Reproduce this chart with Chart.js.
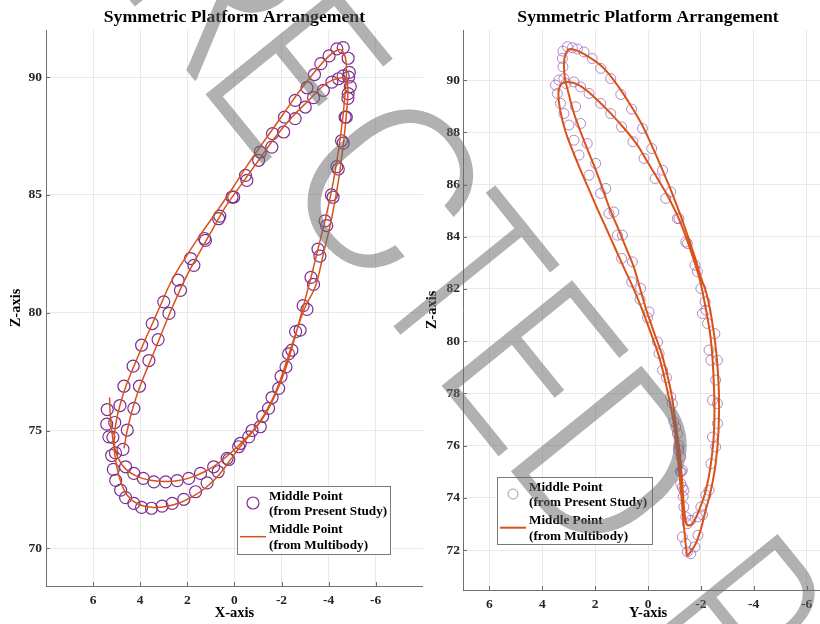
<!DOCTYPE html>
<html>
<head>
<meta charset="utf-8">
<title>Symmetric Platform Arrangement</title>
<script src="https://cdn.jsdelivr.net/npm/chart.js@4.4.1/dist/chart.umd.min.js"></script>
<style>
  html, body { margin: 0; padding: 0; background: #fff; overflow: hidden; }
  #wrap { position: relative; width: 820px; height: 624px; overflow: hidden; }
  #wrap canvas { position: absolute; top: 0; }
  #xzChart { left: 0; }
  #yzChart { left: 410px; }
</style>
</head>
<body>
<div id="wrap">
  <canvas id="xzChart" width="430" height="624"></canvas>
  <canvas id="yzChart" width="430" height="624"></canvas>
</div>
<script>
// ---- tick values ----
const xTicks = [-6, -4, -2, 0, 2, 4, 6];
const yTicks = [-6, -4, -2, 0, 2, 4, 6];
const zTicksXZ = [70, 75, 80, 85, 90];
const zTicksYZ = [72, 74, 76, 78, 80, 82, 84, 86, 88, 90];

// ---- X-Z view: multibody trace ----
const xzLineX = [5.30, 5.28, 5.22, 5.13, 5.02, 4.85, 4.55, 4.10, 3.50, 2.90,
  2.35, 1.80, 1.23, 0.67, 0.10, -0.35, -0.90, -1.35, -1.75, -2.15,
  -2.50, -2.80, -3.22, -3.57, -3.92, -4.21, -4.42, -4.59, -4.70, -4.76,
  -4.72, -4.58, -4.40, -4.00, -3.43, -2.72, -2.02, -1.31, -0.61, 0.10,
  0.81, 1.51, 2.20, 2.72, 3.10, 3.50, 3.90, 4.28, 4.62, 4.88,
  5.05, 5.10, 4.95, 4.60, 4.06, 3.49, 2.92, 2.36, 1.80, 1.23,
  0.67, 0.10, -0.47, -1.03, -1.53, -1.95, -2.30, -2.65, -3.01, -3.43,
  -3.78, -4.14, -4.42, -4.63, -4.77, -4.82, -4.75, -4.56, -4.14, -3.71,
  -3.15, -2.44, -1.74, -1.03, -0.32, 0.38, 0.95, 1.51, 2.03, 2.45,
  2.82, 3.18, 3.57, 3.98, 4.30, 4.55, 4.69];
const xzLineZ = [76.40, 75.80, 75.10, 74.40, 73.60, 72.90, 72.25, 71.88, 71.74, 71.77,
  71.92, 72.18, 72.56, 73.10, 73.85, 74.45, 75.10, 75.75, 76.55, 77.55,
  78.70, 79.80, 81.38, 82.79, 84.21, 85.62, 86.89, 88.16, 89.30, 90.14,
  90.80, 91.12, 91.16, 90.88, 90.25, 89.35, 88.35, 87.35, 86.35, 85.25,
  84.21, 83.21, 82.15, 81.25, 80.40, 79.50, 78.60, 77.70, 76.85, 76.00,
  75.20, 74.45, 73.85, 73.35, 73.02, 72.88, 72.84, 72.88, 73.02, 73.27,
  73.62, 74.10, 74.66, 75.30, 76.15, 77.14, 78.20, 79.26, 80.25, 81.09,
  82.51, 84.06, 85.62, 87.18, 88.59, 89.44, 89.86, 89.97, 89.86, 89.58,
  89.01, 88.30, 87.46, 86.47, 85.48, 84.49, 83.50, 82.51, 81.55, 80.65,
  79.80, 78.90, 77.95, 76.95, 76.00, 75.00, 74.24];

// ---- X-Z view: present study points ----
const xzMarkX = [5.40, 5.42, 5.33, 5.21, 5.14, 5.04, 4.83, 4.62, 4.27, 3.94, 3.52, 3.07, 2.64, 2.15, 1.65, 1.16, 0.69, 0.24,
  -0.18, -0.61, -1.10, -1.45, -1.88, -2.19, -2.44, -2.79, -3.08, -3.36, -3.63, -3.92, -4.19, -4.41, -4.62, -4.75, -4.83, -4.88, -4.83, -4.62, -4.35,
  -4.02, -3.67, -3.40, -3.08, -2.58, -2.13, -1.62, -1.10, -0.47, 0.10, 0.67, 1.27, 1.86, 2.39, 3.00, 3.49, 3.94, 4.30, 4.69, 4.86, 5.08, 5.16, 5.05,
  4.62, 4.27, 3.87, 3.42, 2.92, 2.43, 1.94, 1.44, 0.88, 0.31,
  -0.25, -0.75, -1.20, -1.60, -1.98, -2.30, -2.60, -2.92, -3.25, -3.55, -3.85, -4.12, -4.35, -4.55, -4.70, -4.82, -4.92, -4.85, -4.62,
  -4.42, -4.14, -3.78, -3.36, -3.01, -2.58, -2.09, -1.59, -1.03, -0.53, 0.03, 0.62, 1.23, 1.72, 2.29, 2.78, 3.24, 3.63, 4.03, 4.27, 4.55, 4.73];
const xzMarkZ = [75.89, 75.27, 74.73, 73.94, 73.35, 72.88, 72.47, 72.15, 71.91, 71.74, 71.70, 71.79, 71.91, 72.08, 72.40, 72.78, 73.25, 73.77,
  74.31, 74.73, 75.16, 75.94, 76.79, 77.70, 78.41, 79.26, 80.14, 81.20, 82.40, 83.70, 84.90, 86.10, 87.20, 88.30, 89.30, 90.20, 90.80, 91.25, 91.20,
  90.90, 90.57, 90.11, 89.55, 89.01, 88.30, 87.60, 86.82, 85.83, 84.91, 83.99, 83.15, 82.30, 81.38, 80.46, 79.54, 78.62, 77.73, 76.88, 76.06, 75.34, 74.71, 74.05,
  73.46, 73.18, 72.97, 72.82, 72.82, 72.87, 72.97, 73.18, 73.46, 73.82,
  74.45, 75.00, 75.60, 76.40, 77.30, 78.25, 79.20, 80.30, 81.50, 82.70, 83.90, 85.00, 86.20, 87.30, 88.30, 89.10, 89.60, 90.00, 90.05,
  89.93, 89.79, 89.44, 89.13, 88.73, 88.24, 87.67, 87.03, 86.47, 85.62, 84.91, 84.10, 83.07, 82.01, 80.95, 79.97, 78.86, 77.97, 76.88, 75.94, 75.02, 74.20];

// ---- Y-Z view: multibody trace ----
const yzLineY = [-1.02, -1.12, -1.20, -1.27, -1.33, -1.40, -1.45, -1.49,
  -1.62, -1.81, -2.00, -2.15, -2.38, -2.56, -2.67, -2.68, -2.58, -2.42, -2.22, -2.00,
  -1.78, -1.50, -1.20, -0.88, -0.52, -0.15, 0.22, 0.66, 1.16, 1.73, 2.36, 2.93,
  3.12, 3.18, 3.14, 2.99, 2.80, 2.55, 2.28, 2.00, 1.72, 1.45, 1.13, 0.82,
  0.52, 0.30, 0.08, -0.17, -0.55, -0.86, -1.05, -1.22, -1.28, -1.34, -1.41, -1.49,
  -1.68, -1.93, -2.19, -2.38, -2.50, -2.50, -2.38, -2.12, -1.95, -1.72, -1.45,
  -1.12, -0.75, -0.36, 0.02, 0.40, 0.84, 1.35, 1.98, 2.61, 3.05,
  3.31, 3.39, 3.31, 3.12, 2.86, 2.58, 2.25, 1.92, 1.58, 1.24, 0.90, 0.55,
  0.22, -0.04, -0.42, -0.73, -0.98, -1.15, -1.24, -1.32];
const yzLineZ = [76.40, 75.60, 74.80, 74.00, 73.20, 72.50, 72.00, 71.80,
  71.95, 72.25, 72.80, 73.40, 74.29, 75.31, 76.59, 78.12, 79.60, 80.80, 81.80, 82.45,
  83.20, 84.05, 84.90, 85.75, 86.62, 87.48, 88.28, 89.04, 89.81, 90.51, 90.96, 91.19,
  91.00, 90.57, 90.06, 89.43, 88.72, 88.02, 87.32, 86.62, 85.85, 85.08, 84.32, 83.55,
  82.79, 82.02, 81.25, 80.50, 79.40, 78.12, 76.85, 75.57, 74.80, 73.90, 73.20, 72.95,
  73.01, 73.52, 74.29, 75.31, 76.59, 78.12, 80.04, 81.60, 82.40, 83.15, 83.95,
  84.80, 85.55, 86.23, 86.87, 87.51, 88.08, 88.66, 89.30, 89.81, 89.93,
  89.81, 89.43, 88.79, 88.02, 87.32, 86.62, 85.85, 85.08, 84.32, 83.55, 82.79, 82.02,
  81.20, 80.50, 79.40, 78.12, 76.85, 75.57, 74.80, 74.20];

// ---- Y-Z view: present study points ----
const yzMarkY = [-1.11, -1.17, -1.24, -1.30, -1.24, -1.36, -1.36, -1.30, -1.43, -1.49, -1.62, -1.77,
  -1.89, -2.06, -2.31, -2.56, -2.63, -2.63, -2.56, -2.63, -2.53, -2.19, -2.00, -1.78, -1.49, -1.17, -0.86, -0.55, -0.14, 0.21, 0.62, 1.03, 1.41, 1.79, 2.11, 2.42, 2.67, 2.86, 3.05,
  3.22, 3.24, 3.22, 3.10, 2.74, 2.55, 2.30, 1.98, 1.60, 1.29, 0.97, 0.59, 0.28, -0.04, -0.36, -0.55, -0.86, -0.98, -1.15, -1.26, -1.33, -1.43, -1.49,
  -1.62, -1.87, -2.00, -2.19, -2.38, -2.44, -2.44, -2.38, -2.31, -2.25, -2.06, -2.16, -1.87, -1.43, -1.11, -0.67, -0.27, 0.15, 0.57, 1.00, 1.41, 1.79, 2.23, 2.55, 2.80, 3.18,
  3.37, 3.50, 3.43, 3.31, 3.18, 2.99, 2.80, 2.61, 2.23, 1.79, 1.48, 1.16, 1.00, 0.62, 0.30, 0.02, -0.42, -0.70, -0.92, -1.05, -1.17, -1.22, -1.30];
const yzMarkZ = [76.46, 76.02, 75.57, 75.06, 74.55, 74.29, 73.65, 72.50, 72.25, 71.93, 71.86, 72.12,
  72.57, 73.35, 74.29, 75.95, 76.85, 77.61, 78.51, 79.27, 80.29, 81.19, 82.02, 82.91, 83.74, 84.70, 85.72, 86.55, 87.38, 88.15, 88.89, 89.45, 90.06, 90.45, 90.83, 91.08, 91.19, 91.24, 91.28,
  91.11, 90.83, 90.51, 89.87, 88.98, 88.34, 87.57, 86.81, 85.85, 84.95, 84.06, 83.04, 82.02, 81.12, 79.97, 78.89, 77.87, 76.91, 75.90, 75.00, 74.05, 73.27, 73.01,
  73.14, 73.27, 73.65, 74.10, 75.31, 76.33, 77.74, 79.27, 79.66, 80.68, 81.06, 81.51, 82.66, 83.80, 84.70, 85.47, 86.23, 87.00, 87.64, 88.21, 88.72, 89.11, 89.49, 89.74, 89.93, 90.06,
  90.00, 89.81, 89.49, 89.11, 88.72, 88.28, 87.70, 87.13, 86.36, 85.66, 84.89, 84.06, 83.17, 82.27, 81.60, 80.90, 79.53, 78.60, 77.61, 76.70, 75.80, 75.00, 74.40];

const legendRows = [['Middle Point', '(from Present Study)'], ['Middle Point', '(from Multibody)']];

const serif = "'Liberation Serif', 'Times New Roman', serif";
const toPoints = (a, b) => a.map((v, i) => ({ x: v, y: b[i] }));

// stamp letters: [glyph, centre along the slanted baseline, width]
const stampGlyphs = [['C', -275, 134], ['O', -130, 140], ['R', 2, 110], ['R', 131, 110], ['E', 248, 91],
  ['C', 390, 130], ['T', 507, 103], ['E', 623, 91], ['D', 746, 117], ['P', 947, 86],
  ['R', 1072, 110], ['O', 1210, 140], ['O', 1370, 140], ['F', 1515, 86]];

// title, inward tick marks, boxed legend and the proof stamp
const panelDecor = {
  id: 'panelDecor',
  afterDraw(chart, args, opts) {
    const ctx = chart.ctx;
    const area = chart.chartArea;
    const xs = chart.scales.x, ys = chart.scales.y;
    ctx.save();

    // short ticks pointing into the plot
    ctx.strokeStyle = '#6a6a6a';
    ctx.lineWidth = 1;
    ctx.beginPath();
    xs.ticks.forEach(t => {
      const px = Math.round(xs.getPixelForValue(t.value)) + 0.5;
      ctx.moveTo(px, area.bottom);
      ctx.lineTo(px, area.bottom - 4);
    });
    ys.ticks.forEach(t => {
      const py = Math.round(ys.getPixelForValue(t.value)) + 0.5;
      ctx.moveTo(area.left, py);
      ctx.lineTo(area.left + 4, py);
    });
    ctx.stroke();

    // title
    ctx.fillStyle = '#000';
    ctx.font = 'bold 17.7px ' + serif;
    ctx.textAlign = 'center';
    ctx.textBaseline = 'middle';
    ctx.fillText(opts.title, (area.left + area.right) / 2, 17);

    // legend box
    const lg = opts.legend;
    const mk = chart.data.datasets[0], ln = chart.data.datasets[1];
    ctx.fillStyle = '#fff';
    ctx.fillRect(lg.x, lg.y, lg.w, lg.h);
    ctx.strokeStyle = '#7a7a7a';
    ctx.strokeRect(lg.x + 0.5, lg.y + 0.5, lg.w, lg.h);
    ctx.beginPath();
    ctx.arc(lg.x + 16, lg.y + 17, mk.pointRadius, 0, Math.PI * 2);
    ctx.strokeStyle = mk.pointBorderColor;
    ctx.lineWidth = mk.pointBorderWidth;
    ctx.stroke();
    ctx.beginPath();
    ctx.moveTo(lg.x + 3, lg.y + 50.7);
    ctx.lineTo(lg.x + 29, lg.y + 50.7);
    ctx.strokeStyle = ln.borderColor;
    ctx.lineWidth = ln.borderWidth;
    ctx.stroke();
    ctx.fillStyle = '#000';
    ctx.font = 'bold 13.2px ' + serif;
    ctx.textAlign = 'left';
    const rowY = [10.5, 25.5, 43.5, 59.5];
    legendRows.flat().forEach((txt, i) => ctx.fillText(txt, lg.x + 32, lg.y + rowY[i]));
    ctx.restore();

    // diagonal "CORRECTED PROOF" stamp, placed in page coordinates
    ctx.save();
    if (opts.clipWidth) {
      ctx.beginPath();
      ctx.rect(0, 0, opts.clipWidth, chart.height);
      ctx.clip();
    }
    ctx.translate(-opts.pageX, 0);
    ctx.rotate(51 * Math.PI / 180);
    const family = '300 {s}px Roboto, "DejaVu Sans", sans-serif';
    ctx.font = family.replace('{s}', 100);
    const cap = ctx.measureText('E').actualBoundingBoxAscent || 71;
    ctx.font = family.replace('{s}', (100 * 170 / cap).toFixed(1));
    ctx.fillStyle = 'rgba(105,105,105,0.52)';
    ctx.textAlign = 'left';
    ctx.textBaseline = 'alphabetic';
    stampGlyphs.forEach(([ch, sc, w]) => {
      const m = ctx.measureText(ch);
      const gw = m.actualBoundingBoxLeft + m.actualBoundingBoxRight;
      ctx.save();
      ctx.translate(sc, -100.5);
      ctx.scale(w / gw, 1);
      ctx.fillText(ch, -gw / 2 + m.actualBoundingBoxLeft, 0);
      ctx.restore();
    });
    ctx.restore();
  }
};

function buildPanel(canvasId, cfg) {
  const tickFont = { family: serif, weight: 'bold', size: 13.5 };
  const titleFont = { family: serif, weight: 'bold', size: 14.5 };
  return new Chart(document.getElementById(canvasId), {
    type: 'scatter',
    data: {
      datasets: [{
        label: legendRows[0].join(' '),
        data: toPoints(cfg.markH, cfg.markZ),
        showLine: false,
        order: 1,
        pointStyle: 'circle',
        pointRadius: cfg.markRadius,
        pointBorderWidth: cfg.markWidth,
        pointBorderColor: cfg.markColor,
        pointBackgroundColor: 'rgba(0,0,0,0)'
      }, {
        label: legendRows[1].join(' '),
        data: toPoints(cfg.lineH, cfg.lineZ),
        showLine: true,
        order: 0,
        pointRadius: 0,
        borderColor: '#D95319',
        borderWidth: cfg.lineWidth,
        tension: 0.4,
        fill: false
      }]
    },
    options: {
      responsive: false,
      animation: false,
      devicePixelRatio: 1,
      layout: { padding: { left: 0, right: cfg.padRight, top: 30, bottom: 0 } },
      plugins: {
        legend: { display: false },
        tooltip: { enabled: false },
        panelDecor: cfg.decor
      },
      scales: {
        x: {
          type: 'linear',
          reverse: true,
          min: -cfg.hMax,
          max: cfg.hMax,
          afterBuildTicks: s => { s.ticks = cfg.hTicks.map(v => ({ value: v })); },
          afterFit: s => { s.height = cfg.xAxisHeight; },
          grid: { color: '#e9e9e9', drawTicks: false },
          border: { color: '#707070', width: 1 },
          ticks: { padding: 6, font: tickFont, color: '#262626' },
          title: { display: true, text: cfg.hTitle, font: titleFont, color: '#000', padding: { top: 0, bottom: 2 } }
        },
        y: {
          type: 'linear',
          min: cfg.zMin,
          max: cfg.zMax,
          afterBuildTicks: s => { s.ticks = cfg.zTicks.map(v => ({ value: v })); },
          afterFit: s => { s.width = cfg.yAxisWidth; },
          grid: { color: '#e9e9e9', drawTicks: false },
          border: { color: '#707070', width: 1 },
          ticks: { padding: cfg.yTickPad, font: tickFont, color: '#262626' },
          title: { display: true, text: 'Z-axis', font: titleFont, color: '#000', padding: { top: cfg.zTitlePad, bottom: 0 } }
        }
      }
    },
    plugins: [panelDecor]
  });
}

buildPanel('xzChart', {
  markH: xzMarkX, markZ: xzMarkZ, lineH: xzLineX, lineZ: xzLineZ,
  markRadius: 6, markWidth: 1.2, markColor: '#7E2F8E', lineWidth: 1.5,
  hMax: 8, hTicks: xTicks, hTitle: 'X-axis',
  zMin: 68.4, zMax: 92, zTicks: zTicksXZ,
  padRight: 4, xAxisHeight: 38, yAxisWidth: 46, yTickPad: 4, zTitlePad: 8,
  decor: { title: 'Symmetric Platform Arrangement', legend: { x: 237, y: 486, w: 153, h: 68 }, pageX: 0, clipWidth: 410 }
});

buildPanel('yzChart', {
  markH: yzMarkY, markZ: yzMarkZ, lineH: yzLineY, lineZ: yzLineZ,
  markRadius: 5, markWidth: 0.9, markColor: 'rgba(150,90,180,0.8)', lineWidth: 2,
  hMax: 7, hTicks: yTicks, hTitle: 'Y-axis',
  zMin: 70.47, zMax: 91.92, zTicks: zTicksYZ,
  padRight: 7, xAxisHeight: 34, yAxisWidth: 53, yTickPad: 3, zTitlePad: 14,
  decor: { title: 'Symmetric Platform Arrangement', legend: { x: 87, y: 477, w: 155, h: 67 }, pageX: 410, clipWidth: 0 }
});
</script>
</body>
</html>
